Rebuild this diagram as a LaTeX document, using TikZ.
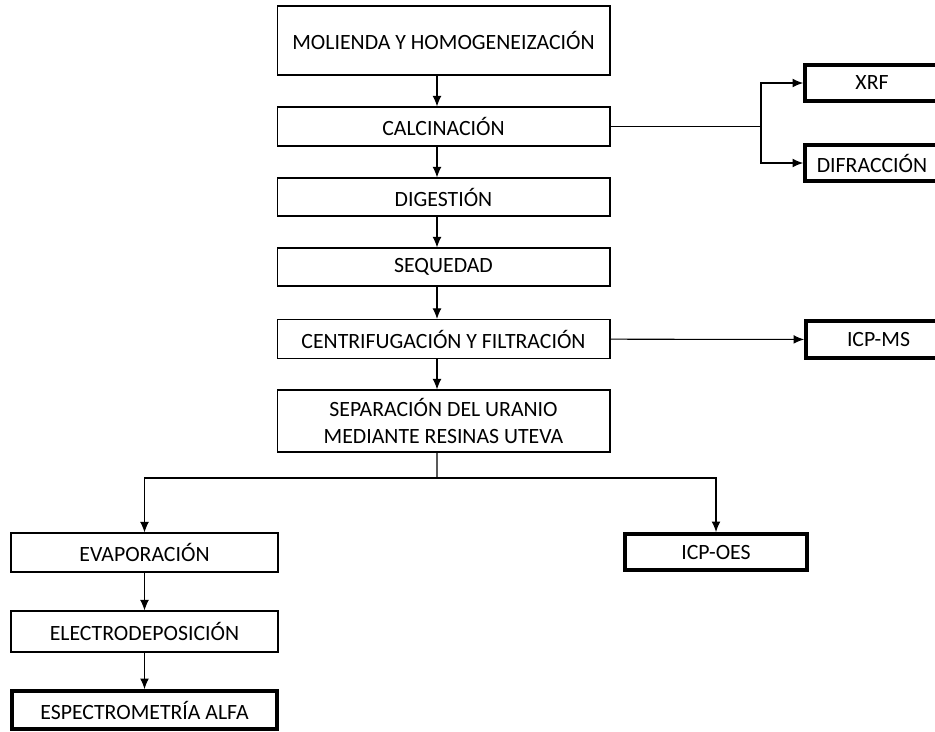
\documentclass[tikz,border=0pt]{standalone}
\usepackage{fontspec}
\setmainfont{Carlito}
\usetikzlibrary{arrows,arrows.meta}

\begin{document}
\begin{tikzpicture}[x = 0.02cm, y = -0.02cm, >={Latex[length=6pt, width=5pt]},
	box/.style = {draw, line width = 0.6pt, inner sep = 0pt, align = center, font = \fontsize{12.4}{15.3}\selectfont},
	endbox/.style = {box, line width = 2.2pt}]
	\useasboundingbox (0,0) rectangle (935,731);
	
	% main column
	\node(m0) at (443.5,40.5)[box, minimum width = 6.66cm, minimum height = 1.38cm] {MOLIENDA Y HOMOGENEIZACIÓN};
	\node(m1) at (443.5,126.5)[box, minimum width = 6.66cm, minimum height = 0.78cm] {CALCINACIÓN};
	\node(m2) at (443.5,197)[box, minimum width = 6.66cm, minimum height = 0.76cm] {DIGESTIÓN};
	\node(m3) at (443.5,267)[box, minimum width = 6.66cm, minimum height = 0.76cm] {SEQUEDAD};
	\node(m4) at (443.5,339)[box, minimum width = 6.66cm, minimum height = 0.78cm] {CENTRIFUGACIÓN Y FILTRACIÓN};
	\node(m5) at (443.5,421)[box, minimum width = 6.66cm, minimum height = 1.24cm] {SEPARACIÓN DEL URANIO\\MEDIANTE RESINAS UTEVA};
	
	% alpha branch
	\node(m6) at (144.5,552.5)[box, minimum width = 5.34cm, minimum height = 0.78cm] {EVAPORACIÓN};
	\node(m7) at (144.5,631.5)[box, minimum width = 5.34cm, minimum height = 0.82cm] {ELECTRODEPOSICIÓN};
	\node(alfa) at (144.5,710)[endbox, minimum width = 5.30cm, minimum height = 0.76cm] {ESPECTROMETRÍA ALFA};
	
	% analysis boxes
	\node(oes) at (716,552)[endbox, minimum width = 3.64cm, minimum height = 0.72cm] {ICP-OES};
	\node(xrf) at (872,83)[endbox, minimum width = 2.68cm, minimum height = 0.72cm] {XRF};
	\node(dif) at (872,163)[endbox, minimum width = 2.68cm, minimum height = 0.72cm] {DIFRACCIÓN};
	\node(ms) at (878.5,339.5)[endbox, minimum width = 2.90cm, minimum height = 0.74cm] {ICP-MS};
	
	\coordinate(s1) at (761,126.5);
	\coordinate(s2) at (437,478);
	
	\path [->] [line width = 0.6pt]
	([xshift = -0.13cm]m0.south) edge ([xshift = -0.13cm]m1.north)
	([xshift = -0.13cm]m1.south) edge ([xshift = -0.13cm]m2.north)
	([xshift = -0.13cm]m2.south) edge ([xshift = -0.13cm]m3.north)
	([xshift = -0.13cm]m3.south) edge ([xshift = -0.13cm]m4.north)
	([xshift = -0.13cm]m4.south) edge ([xshift = -0.13cm]m5.north)
	(m6) edge (m7)
	(m7) edge (alfa)
	(m4) edge (ms);
	
	\draw [line width = 0.6pt] (m1.east) -- (s1);
	\draw [->, line width = 0.6pt] (s1) |- (xrf.west);
	\draw [->, line width = 0.6pt] (s1) |- (dif.west);
	\draw [line width = 0.6pt] ([xshift = -0.13cm]m5.south) -- (s2);
	\draw [->, line width = 0.6pt] (s2) -| (m6.north);
	\draw [->, line width = 0.6pt] (s2) -| (oes.north);
\end{tikzpicture}
\end{document}
